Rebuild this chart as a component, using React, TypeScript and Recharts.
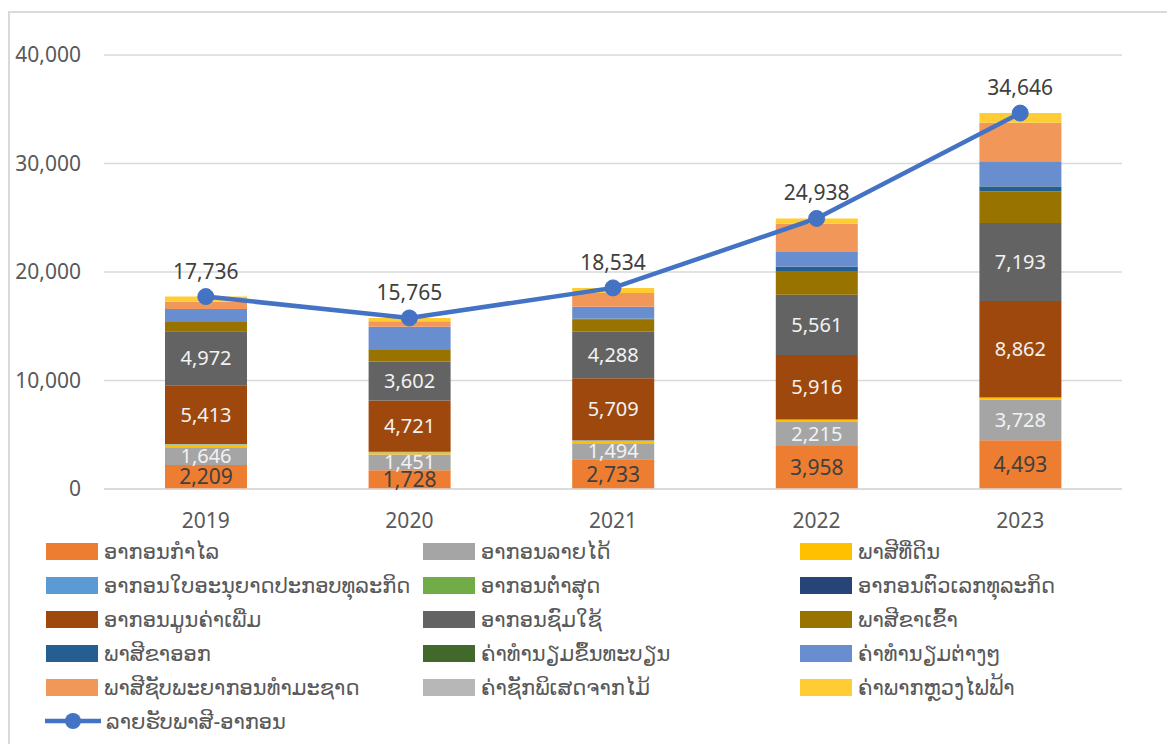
import React from "react";
import { ComposedChart, Bar, Line, XAxis, YAxis, CartesianGrid, LabelList } from "recharts";

const years = ["2019", "2020", "2021", "2022", "2023"];

// stacked components, bottom to top
const profitTax = [2209, 1728, 2733, 3958, 4493];
const incomeTax = [1646, 1451, 1494, 2215, 3728];
const landTax = [250, 200, 220, 200, 200];
const licenseTax = [40, 40, 40, 40, 40];
const minimumTax = [0, 0, 0, 0, 0];
const bizNumberTax = [10, 10, 10, 10, 10];
const vat = [5413, 4721, 5709, 5916, 8862];
const exciseTax = [4972, 3602, 4288, 5561, 7193];
const importDuty = [900, 1100, 1150, 2200, 2900];
const exportDuty = [30, 30, 40, 370, 450];
const registrationFees = [20, 20, 20, 20, 20];
const otherFees = [1100, 2050, 1100, 1350, 2300];
const naturalResourceTax = [650, 500, 1250, 2600, 3550];
const timberSpecial = [10, 10, 10, 10, 10];
const electricityRoyalty = [486, 303, 470, 488, 890];
const totalRevenue = [17736, 15765, 18534, 24938, 34646];

const yTicks = [0, 10000, 20000, 30000, 40000];

const series = [
  { key: "profit", name: "ອາກອນກຳໄລ", color: "#ED7D31", values: profitTax },
  { key: "income", name: "ອາກອນລາຍໄດ້", color: "#A5A5A5", values: incomeTax },
  { key: "land", name: "ພາສີທີ່ດິນ", color: "#FFC000", values: landTax },
  { key: "license", name: "ອາກອນໃບອະນຸຍາດປະກອບທຸລະກິດ", color: "#5B9BD5", values: licenseTax },
  { key: "minimum", name: "ອາກອນຕ່ຳສຸດ", color: "#70AD47", values: minimumTax },
  { key: "bizNumber", name: "ອາກອນຕົວເລກທຸລະກິດ", color: "#264478", values: bizNumberTax },
  { key: "vat", name: "ອາກອນມູນຄ່າເພີ່ມ", color: "#9E480E", values: vat },
  { key: "excise", name: "ອາກອນຊົມໃຊ້", color: "#636363", values: exciseTax },
  { key: "import", name: "ພາສີຂາເຂົ້າ", color: "#997300", values: importDuty },
  { key: "export", name: "ພາສີຂາອອກ", color: "#255E91", values: exportDuty },
  { key: "registration", name: "ຄ່າທຳນຽມຂຶ້ນທະບຽນ", color: "#43682B", values: registrationFees },
  { key: "fees", name: "ຄ່າທຳນຽມຕ່າງໆ", color: "#698ED0", values: otherFees },
  { key: "natural", name: "ພາສີຊັບພະຍາກອນທຳມະຊາດ", color: "#F1975A", values: naturalResourceTax },
  { key: "timber", name: "ຄ່າຊັກພິເສດຈາກໄມ້", color: "#B7B7B7", values: timberSpecial },
  { key: "electricity", name: "ຄ່າພາກຫຼວງໄຟຟ້າ", color: "#FFCD33", values: electricityRoyalty },
];
const lineName = "ລາຍຮັບພາສີ-ອາກອນ";

const labelled: Record<string, string> = {
  profit: "#404040",
  income: "#F2F2F2",
  vat: "#F2F2F2",
  excise: "#F2F2F2",
};

const data = years.map((year, i) => {
  const row: Record<string, string | number> = { year, total: totalRevenue[i] };
  series.forEach((s) => (row[s.key] = s.values[i]));
  return row;
});

const FONT = "'Noto Sans', 'DejaVu Sans', sans-serif";
const fmt = (v: number) => v.toLocaleString("en-US");

export default function App() {
  return (
    <div style={{ position: "relative", width: 1167, height: 736, fontFamily: FONT, background: "#fff" }}>
      <div
        style={{
          position: "absolute", left: 0, top: 3, width: 1170, height: 760,
          borderLeft: "2px solid #D9D9D9", borderTop: "2px solid #D9D9D9", borderRight: "2px solid #D9D9D9",
        }}
      />
      <div style={{ position: "absolute", left: 0, top: 0 }}>
        <ComposedChart
          width={1167}
          height={540}
          data={data}
          margin={{ top: 47, right: 53, left: 0, bottom: 19 }}
        >
          <CartesianGrid vertical={false} stroke="#D9D9D9" strokeWidth={1.5} />
          <XAxis
            dataKey="year"
            height={40}
            axisLine={{ stroke: "#D9D9D9", strokeWidth: 1.5 }}
            tickLine={false}
            tickSize={0}
            tickMargin={24}
            tick={{ fill: "#595959", fontSize: 21, fontFamily: FONT }}
          />
          <YAxis
            width={96}
            domain={[0, 40000]}
            ticks={yTicks}
            axisLine={false}
            tickLine={false}
            tickSize={0}
            tickMargin={23}
            tickFormatter={fmt}
            tick={{ fill: "#595959", fontSize: 21, fontFamily: FONT }}
          />
          {series.map((s) => (
            <Bar
              key={s.key}
              dataKey={s.key}
              name={s.name}
              stackId="a"
              fill={s.color}
              barSize={82}
              isAnimationActive={false}
            >
              {labelled[s.key] && (
                <LabelList
                  dataKey={s.key}
                  position="center"
                  formatter={(v: number) => fmt(v)}
                  fill={labelled[s.key]}
                  fontSize={s.key === "profit" ? 21 : 20}
                  fontFamily={FONT}
                />
              )}
            </Bar>
          ))}
          <Line
            dataKey="total"
            name={lineName}
            stroke="#4472C4"
            strokeWidth={4.5}
            dot={{ r: 8, fill: "#4472C4", stroke: "#4472C4", strokeWidth: 1 }}
            isAnimationActive={false}
          >
            <LabelList
              dataKey="total"
              position="top"
              offset={18}
              formatter={(v: number) => fmt(v)}
              fill="#404040"
              fontSize={21}
              fontFamily={FONT}
            />
          </Line>
        </ComposedChart>
      </div>
      {/* legend */}
      <div style={{ position: "absolute", left: 0, top: 533, width: 1167 }}>
        {series.map((s, i) => {
          const col = i % 3;
          const row = Math.floor(i / 3);
          return (
            <div
              key={s.key}
              style={{
                position: "absolute",
                left: 38 + col * 377,
                top: row * 34,
                height: 20,
                display: "flex",
                alignItems: "center",
                whiteSpace: "nowrap",
              }}
            >
              <span style={{ display: "inline-block", width: 52, height: 17, background: s.color, marginRight: 6 }} />
              <span style={{ fontSize: 21, color: "#595959" }}>{s.name}</span>
            </div>
          );
        })}
        <div
          style={{
            position: "absolute", left: 36, top: 170, height: 20,
            display: "flex", alignItems: "center", whiteSpace: "nowrap",
          }}
        >
          <svg width={58} height={20} style={{ marginRight: 4 }}>
            <line x1={1} y1={10} x2={57} y2={10} stroke="#4472C4" strokeWidth={4.5} />
            <circle cx={29} cy={10} r={8} fill="#4472C4" />
          </svg>
          <span style={{ fontSize: 21, color: "#595959" }}>{lineName}</span>
        </div>
      </div>
    </div>
  );
}
